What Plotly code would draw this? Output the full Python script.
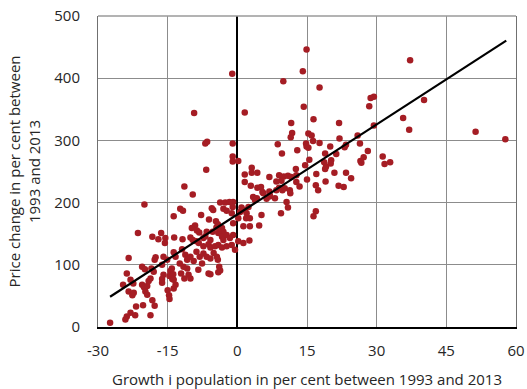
import plotly.graph_objects as go

# Population growth (%) 1993-2013 and price change (%) 1993-2013
growth = [
    -1.1, -9.3, -6.9, -6.5, -1.0, -1.0, -1.0, 0.2, -6.7, 14.9, 14.1, 9.9, 17.7, 1.6, 14.3, 11.6, 16.4, 11.8, 11.5, 21.9,
    15.3, 16.0, 16.3, 14.8, 14.9, 15.3, 17.7, 8.7, 9.6, 12.9, 20.0, 22.0, 23.4, 23.1, 25.9, 26.4, 21.3, 18.9, 28.1, 27.2,
    26.5, 26.7, 15.5, 14.6, 12.6, 18.7, 19.1, 18.9, 20.2, 20.1, 3.1, 28.7, 29.4, 28.4, 37.2, 40.2, 35.7, 37.0, 51.3, 57.7,
    29.4, 31.3, 31.7, 32.9,
    1.6, 3.1, 4.3, 1.6, 2.9, 4.3, 5.1, 6.9, 9.0, 10.0, 10.9, 11.6, 12.7, 9.5, 8.4, 12.7, 13.4, 15.0, 17.0, 16.9,
    17.4, 19.0, 20.9, 23.4, 24.5, 21.8, 22.9, 5.4, 6.9, 8.4, 9.0, 9.7, 10.2, 11.3, 11.4, 3.4, 4.2, 6.3, 8.1, 10.6,
    10.9, 9.4, 5.2, 4.7, 2.7, 1.3, 2.4, 1.6, 0.9, 0.6, 2.0, 2.7, 1.9, -0.9, -1.0, -1.2, -0.9, 16.9, 16.4, -0.9,
    0.2, 1.3, 2.6, -0.5, 6.9, 5.6, 7.0, 3.8, 0.2,
    -11.4, -9.6, -20.0, -12.3, -11.7, -13.7, -3.7, -2.6, -1.7, -5.5, -5.2, -3.0, -2.3, -7.8, -6.1, -4.6, -4.2, -4.5, -9.1, -9.8,
    -8.7, -8.2, -6.6, -5.3, -3.3, -3.0, -21.4, -18.3, -16.4, -17.0, -15.5, -15.6, -13.6, -11.8, -10.1, -9.6, -8.8, -8.3, -7.3, -6.9,
    -5.8, -6.2, -4.1, -3.3, -3.0, -2.3, -1.6, -7.3, -5.8, -4.8, -4.1, -3.3, -2.3, -1.2, -13.7, -13.3, -11.9, -11.2, -10.8, -10.1,
    -9.4, -8.8, -8.1, -7.3, -6.6, -5.8, -5.1, -4.4, -4.2, -3.9, -6.2, -4.1, -3.7,
    -23.4, -17.6, -17.8, -20.5, -19.9, -18.5, -18.0, -16.2, -15.9, -15.1, -14.1, -14.6, -14.4, -13.8, -14.0, -15.9, -16.2, -12.1, -11.4, -10.8,
    -10.5, -10.1, -13.7, -13.3, -16.2, -23.8, -23.0, -22.4, -24.6, -23.4, -22.6, -22.3, -20.5, -20.1, -19.4, -19.1, -18.7, -19.8, -19.4, -18.3,
    -17.8, -20.3, -21.8, -23.0, -22.0, -23.8, -24.1, -18.7, -27.4, -15.0, -14.7, -14.6, -13.7, -11.6, -8.4, -7.6, -5.8, -12.4,
]
price = [
    407, 344, 295, 298, 295, 274, 266, 267, 253, 446, 411, 395, 385, 345, 354, 328, 334, 312, 305, 328,
    311, 308, 299, 295, 290, 288, 296, 294, 279, 284, 290, 303, 293, 289, 308, 295, 278, 279, 283, 273,
    267, 264, 269, 260, 254, 265, 258, 254, 268, 263, 256, 368, 370, 355, 429, 365, 336, 317, 314, 302,
    324, 274, 262, 265,
    245, 248, 248, 233, 227, 224, 225, 241, 244, 242, 243, 241, 244, 235, 234, 233, 226, 237, 246, 228,
    220, 234, 248, 248, 239, 227, 225, 217, 218, 220, 224, 220, 223, 220, 215, 209, 207, 206, 207, 201,
    192, 183, 180, 163, 162, 162, 193, 188, 192, 185, 183, 175, 175, 201, 193, 183, 167, 186, 178, 148,
    138, 135, 139, 124, 210, 215, 212, 204, 175,
    226, 213, 197, 190, 187, 178, 200, 200, 201, 191, 188, 190, 187, 180, 173, 170, 165, 160, 163, 159,
    155, 152, 153, 153, 159, 153, 151, 145, 151, 141, 143, 135, 144, 141, 144, 140, 138, 135, 143, 146,
    140, 133, 151, 145, 140, 148, 143, 130, 128, 130, 132, 128, 130, 132, 120, 113, 125, 116, 108, 113,
    106, 121, 113, 118, 113, 110, 119, 113, 108, 97, 86, 88, 91,
    111, 112, 108, 97, 93, 94, 89, 100, 113, 108, 94, 82, 90, 85, 77, 84, 77, 86, 78, 94,
    84, 78, 76, 68, 71, 86, 76, 70, 68, 57, 51, 55, 68, 64, 66, 74, 78, 57, 52, 43,
    34, 35, 33, 23, 19, 17, 12, 19, 7, 59, 51, 45, 62, 97, 92, 102, 85, 102,
]

# Linear trend line end points
trend_x = [-27.4, 57.9]
trend_y = [48.7, 460.3]

x_ticks = [-30, -15, 0, 15, 30, 45, 60]
y_ticks = [0, 100, 200, 300, 400, 500]

fig = go.Figure()
fig.add_trace(go.Scatter(
    x=growth, y=price, mode="markers",
    marker=dict(color="#A51D24", size=6.5, line=dict(width=0)),
    showlegend=False, hoverinfo="skip",
))
fig.add_trace(go.Scatter(
    x=trend_x, y=trend_y, mode="lines",
    line=dict(color="black", width=2.2),
    showlegend=False, hoverinfo="skip",
))

# top border of the plot area (grey)
fig.add_shape(type="line", xref="paper", yref="paper", x0=0, x1=1, y0=1, y1=1,
              line=dict(color="#9a9a9a", width=1.5))

fig.update_layout(
    width=527, height=389,
    margin=dict(l=98, r=11, t=16, b=62),
    paper_bgcolor="white", plot_bgcolor="white",
    font=dict(family="Open Sans", size=15, color="#262626"),
    xaxis=dict(
        range=[-30, 60], tickvals=x_ticks, ticktext=[str(v) for v in x_ticks],
        showgrid=True, gridcolor="#8c8c8c", gridwidth=1,
        zeroline=True, zerolinecolor="black", zerolinewidth=1.5,
        showline=True, linecolor="black", linewidth=1.5,
        ticks="", ticklabelstandoff=9, automargin=False,
        tickfont=dict(size=15),
        title=dict(text="Growth i population in per cent between 1993 and 2013",
                   font=dict(size=15), standoff=16),
    ),
    yaxis=dict(
        range=[0, 500], tickvals=y_ticks, ticktext=[str(v) for v in y_ticks],
        showgrid=True, gridcolor="#8c8c8c", gridwidth=1,
        zeroline=False,
        showline=True, linecolor="#707070", linewidth=1, mirror=True,
        ticks="", ticklabelstandoff=14, automargin=False,
        tickfont=dict(size=15),
        title=dict(text="Price change in per cent between<br>1993 and 2013",
                   font=dict(size=15), standoff=10),
    ),
)

fig.write_html("out.html")
